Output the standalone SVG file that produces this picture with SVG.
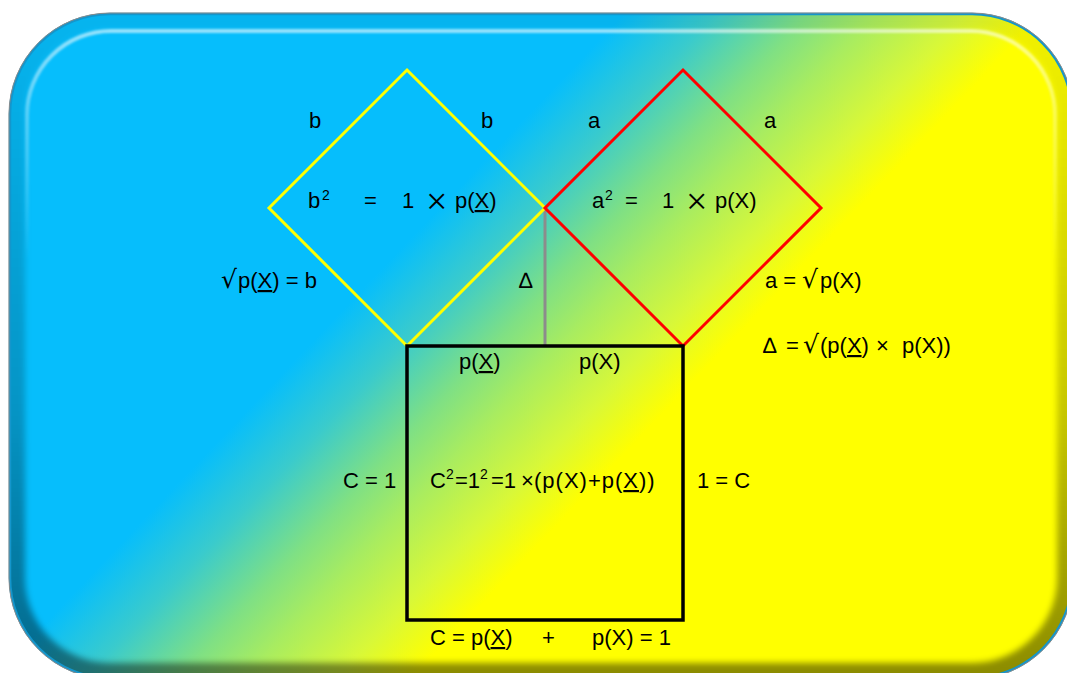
<svg xmlns="http://www.w3.org/2000/svg" width="1067" height="673" viewBox="0 0 1067 673">
  <style>
    text { font-family: "Liberation Sans", Arial, sans-serif; font-size: 22px; fill: #000; }
    .sup { font-size: 14px; }
    .big { font-family: "Liberation Serif", "Times New Roman", serif; font-size: 38px; }
    .rt { font-family: "DejaVu Sans", sans-serif; font-size: 25px; }
    .u { text-decoration: underline; }
    .sp { letter-spacing: 1px; }
    .sq-b { fill: none; stroke: #FFFF00; stroke-width: 3; }
    .sq-a { fill: none; stroke: #FF0000; stroke-width: 3; }
    .sq-c { fill: none; stroke: #000; stroke-width: 3.5; }
    .link { stroke: #8C8C8C; stroke-width: 3; fill: none; }
  </style>
  <defs>
    <linearGradient id="bg" gradientUnits="userSpaceOnUse" x1="335" y1="318" x2="555" y2="527">
      <stop offset="0" stop-color="#06BEFC"/>
      <stop offset="0.22" stop-color="#3ACBCC"/>
      <stop offset="0.44" stop-color="#7FE084"/>
      <stop offset="0.6" stop-color="#A8EC60"/>
      <stop offset="0.82" stop-color="#D8F838"/>
      <stop offset="1" stop-color="#FFFF00"/>
    </linearGradient>
    <linearGradient id="shade" gradientUnits="userSpaceOnUse" x1="0" y1="14" x2="0" y2="673">
      <stop offset="0" stop-color="#000" stop-opacity="0.05"/>
      <stop offset="0.6" stop-color="#000" stop-opacity="0.22"/>
      <stop offset="1" stop-color="#000" stop-opacity="0.45"/>
    </linearGradient>
    <linearGradient id="hl" gradientUnits="userSpaceOnUse" x1="0" y1="25" x2="0" y2="260">
      <stop offset="0" stop-color="#fff" stop-opacity="0.6"/>
      <stop offset="0.4" stop-color="#fff" stop-opacity="0.3"/>
      <stop offset="1" stop-color="#fff" stop-opacity="0"/>
    </linearGradient>
    <clipPath id="panelClip">
      <rect x="10" y="14" width="1062" height="664" rx="100" ry="100"/>
    </clipPath>
    <filter id="blur3" x="-5%" y="-5%" width="110%" height="110%">
      <feGaussianBlur stdDeviation="3"/>
    </filter>
    <filter id="blur1" x="-5%" y="-5%" width="110%" height="110%">
      <feGaussianBlur stdDeviation="1.2"/>
    </filter>
  </defs>

  <g id="panel">
    <rect x="10" y="14" width="1062" height="664" rx="100" ry="100" fill="url(#bg)"/>
    <g clip-path="url(#panelClip)">
      <rect x="10" y="14" width="1062" height="664" rx="100" ry="100" fill="none" stroke="url(#shade)" stroke-width="30" filter="url(#blur3)"/>
      <rect x="27" y="31" width="1028" height="630" rx="84" ry="84" fill="none" stroke="url(#hl)" stroke-width="4" filter="url(#blur1)"/>
    </g>
    <rect x="10" y="14" width="1062" height="664" rx="100" ry="100" fill="none" stroke="#1496CC" stroke-width="2.5"/>
    <rect x="9" y="13" width="1064" height="666" rx="101" ry="101" fill="none" stroke="#8A8A8A" stroke-width="1"/>
  </g>

  <g id="connectors">
    <line class="link" x1="545" y1="208" x2="545" y2="346"/>
  </g>

  <g id="square-b">
    <polygon class="sq-b" points="407,70 545,208 407,346 269,208"/>
    <text x="308" y="208">b</text>
    <text class="sup" x="322" y="200">2</text>
    <text x="364" y="208">=</text>
    <text x="402" y="208">1</text>
    <text class="big" x="426" y="214">×</text>
    <text x="455" y="208">p(<tspan class="u">X</tspan>)</text>
  </g>

  <g id="square-a">
    <polygon class="sq-a" points="683,70 821,208 683,346 545,208"/>
    <text x="592" y="208">a</text>
    <text class="sup" x="605" y="200">2</text>
    <text x="625" y="208">=</text>
    <text x="662" y="208">1</text>
    <text class="big" x="686" y="214">×</text>
    <text x="715" y="208">p(X)</text>
  </g>

  <g id="square-c">
    <rect class="sq-c" x="407" y="346" width="276" height="274"/>
    <text y="488"><tspan x="430">C</tspan><tspan class="sup" x="446" y="479">2</tspan><tspan x="455" y="488">=1</tspan><tspan class="sup" x="480" y="479">2</tspan><tspan x="491" y="488">=1</tspan><tspan x="521">×</tspan><tspan class="sp" x="534">(p(X)+p(</tspan><tspan class="u sp">X</tspan><tspan class="sp">))</tspan></text>
  </g>

  <g id="labels">
    <text x="315" y="128" text-anchor="middle">b</text>
    <text x="487" y="128" text-anchor="middle">b</text>
    <text x="594" y="128" text-anchor="middle">a</text>
    <text x="770" y="128" text-anchor="middle">a</text>

    <text y="288"><tspan class="rt" x="221">√</tspan><tspan x="238">p(</tspan><tspan class="u">X</tspan><tspan>) = b</tspan></text>
    <text x="519" y="288">∆</text>
    <text y="288"><tspan x="765">a =</tspan><tspan class="rt" x="802">√</tspan><tspan x="820">p(X)</tspan></text>
    <text y="353"><tspan x="763">∆</tspan><tspan x="786">=</tspan><tspan class="rt" x="803">√</tspan><tspan x="820">(p(</tspan><tspan class="u">X</tspan><tspan>)</tspan><tspan x="876">×</tspan><tspan x="902">p(X))</tspan></text>

    <text x="459" y="369">p(<tspan class="u">X</tspan>)</text>
    <text x="579" y="369">p(X)</text>

    <text x="343" y="488">C = 1</text>
    <text x="697" y="488">1 = C</text>

    <text x="430" y="645">C = p(<tspan class="u">X</tspan>)</text>
    <text x="542" y="645">+</text>
    <text x="592" y="645">p(X) = 1</text>
  </g>
</svg>
